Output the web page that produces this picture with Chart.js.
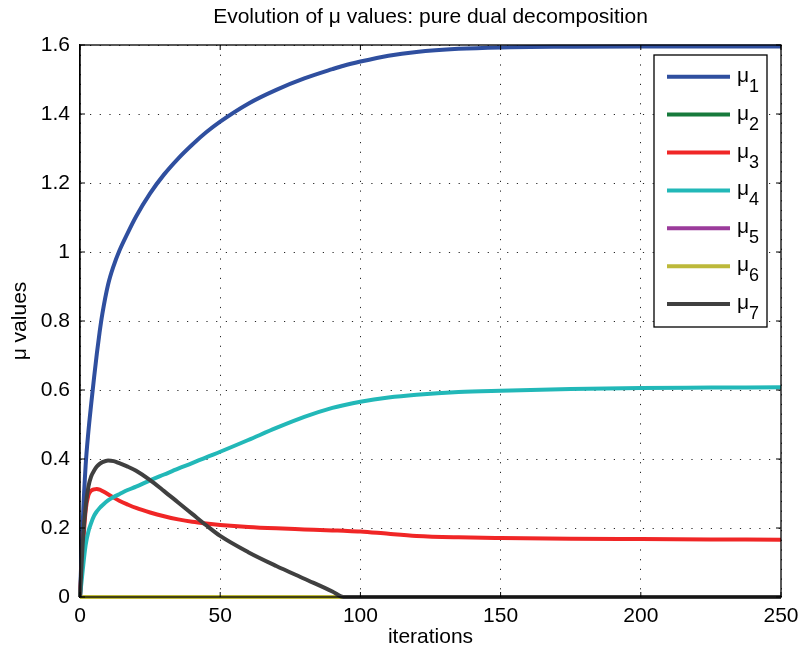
<!DOCTYPE html>
<html>
<head>
<meta charset="utf-8">
<script src="https://cdn.jsdelivr.net/npm/chart.js@4/dist/chart.umd.min.js"></script>
<style>
  html, body { margin: 0; padding: 0; background: #fff; }
  #wrap { width: 801px; height: 655px; }
</style>
</head>
<body>
<div id="wrap"><canvas id="muChart" width="801" height="655"></canvas></div>
<script>
// iterations where the curves were sampled off the picture
const iters = [0, 1, 2, 3, 4, 5, 6, 7, 8, 10, 12, 14, 17, 20, 25, 30, 35, 40, 45, 50,
  60, 70, 80, 90, 94, 100, 110, 120, 135, 150, 175, 200, 225, 250];

const mu1 = [0, 0.22, 0.38, 0.48, 0.56, 0.635, 0.705, 0.768, 0.822, 0.905, 0.96, 1.003, 1.055, 1.103, 1.17, 1.225,
  1.271, 1.311, 1.347, 1.378, 1.43, 1.47, 1.503, 1.53, 1.54, 1.552, 1.569, 1.58, 1.589, 1.593, 1.595, 1.596, 1.596, 1.596];
const mu2 = iters.map(() => 0);
const mu3 = [0, 0.14, 0.25, 0.295, 0.308, 0.312, 0.313, 0.311, 0.307, 0.298, 0.288, 0.279, 0.268, 0.258, 0.245, 0.234,
  0.225, 0.218, 0.213, 0.209, 0.203, 0.199, 0.196, 0.193, 0.192, 0.19, 0.183, 0.177, 0.173, 0.171, 0.169, 0.168, 0.167, 0.166];
const mu4 = [0, 0.08, 0.15, 0.19, 0.215, 0.235, 0.248, 0.258, 0.266, 0.28, 0.29, 0.298, 0.31, 0.32, 0.338, 0.355,
  0.372, 0.388, 0.405, 0.421, 0.455, 0.49, 0.522, 0.548, 0.556, 0.566, 0.578, 0.586, 0.594, 0.598, 0.603, 0.606, 0.607, 0.608];
const mu5 = iters.map(() => 0);
const mu6 = iters.map(() => 0);
const mu7 = [0, 0.16, 0.26, 0.32, 0.35, 0.366, 0.378, 0.386, 0.391, 0.396, 0.394, 0.388, 0.378, 0.366, 0.339, 0.307,
  0.274, 0.241, 0.208, 0.177, 0.13, 0.09, 0.053, 0.016, 0, 0, 0, 0, 0, 0, 0, 0, 0, 0];

const seriesNames = ["μ1", "μ2", "μ3", "μ4", "μ5", "μ6", "μ7"];
const seriesData = [mu1, mu2, mu3, mu4, mu5, mu6, mu7];
const seriesColors = ["#2f4f9f", "#177a3c", "#f02626", "#22b8b8", "#9b3b9b", "#bdb93a", "#404040"];

const xTicks = [0, 50, 100, 150, 200, 250];
const yTicks = [0, 0.2, 0.4, 0.6, 0.8, 1, 1.2, 1.4, 1.6];

const FONT = "'Liberation Sans', Arial, Helvetica, sans-serif";

// frame, inward ticks on all four sides, and the boxed legend (MATLAB look)
const matlabAxes = {
  id: "matlabAxes",
  afterDraw(chart) {
    const ctx = chart.ctx;
    const a = chart.chartArea;
    const xs = chart.scales.x, ys = chart.scales.y;
    ctx.save();
    ctx.strokeStyle = "#000";
    ctx.lineWidth = 1.3;
    ctx.strokeRect(a.left, a.top, a.right - a.left, a.bottom - a.top);

    const tl = 5;
    ctx.beginPath();
    xTicks.forEach(v => {
      const px = xs.getPixelForValue(v);
      ctx.moveTo(px, a.bottom); ctx.lineTo(px, a.bottom - tl);
      ctx.moveTo(px, a.top); ctx.lineTo(px, a.top + tl);
    });
    yTicks.forEach(v => {
      const py = ys.getPixelForValue(v);
      ctx.moveTo(a.left, py); ctx.lineTo(a.left + tl, py);
      ctx.moveTo(a.right, py); ctx.lineTo(a.right - tl, py);
    });
    ctx.lineWidth = 1;
    ctx.stroke();

    // legend
    const boxW = 113, boxH = 272;
    const bx = a.right - 14 - boxW, by = a.top + 10;
    ctx.fillStyle = "#fff";
    ctx.fillRect(bx, by, boxW, boxH);
    ctx.lineWidth = 1.3;
    ctx.strokeStyle = "#000";
    ctx.strokeRect(bx, by, boxW, boxH);
    seriesNames.forEach((name, i) => {
      const ly = by + 21.7 + i * 37.9;
      ctx.beginPath();
      ctx.moveTo(bx + 13, ly);
      ctx.lineTo(bx + 76, ly);
      ctx.strokeStyle = seriesColors[i];
      ctx.lineWidth = 4;
      ctx.stroke();
      ctx.fillStyle = "#000";
      ctx.textAlign = "left";
      ctx.textBaseline = "alphabetic";
      ctx.font = "21px " + FONT;
      ctx.fillText(name.charAt(0), bx + 83, ly + 5);
      ctx.font = "18px " + FONT;
      ctx.fillText(name.slice(1), bx + 95, ly + 15);
    });
    ctx.restore();
  }
};

new Chart(document.getElementById("muChart"), {
  type: "line",
  data: {
    labels: iters,
    datasets: seriesNames.map((name, i) => ({
      label: name,
      data: iters.map((x, k) => ({ x: x, y: seriesData[i][k] })),
      borderColor: seriesColors[i],
      backgroundColor: seriesColors[i],
      borderWidth: 4,
      pointRadius: 0,
      cubicInterpolationMode: "monotone",
      clip: 4,
      order: seriesNames.length - i
    }))
  },
  options: {
    responsive: false,
    animation: false,
    layout: { padding: { left: 0, right: 20, top: 0, bottom: 0 } },
    plugins: {
      legend: { display: false },
      tooltip: { enabled: false },
      title: {
        display: true,
        fullSize: false,
        text: "Evolution of μ values: pure dual decomposition",
        color: "#000",
        font: { family: FONT, size: 21, weight: "normal", lineHeight: 1.2 },
        padding: { top: 5, bottom: 14.8 }
      }
    },
    scales: {
      x: {
        type: "linear",
        min: 0,
        max: 250,
        afterBuildTicks: s => { s.ticks = xTicks.map(v => ({ value: v })); },
        afterFit: s => { s.height = 58; s.paddingLeft = 0; s.paddingRight = 0; },
        ticks: {
          color: "#000",
          padding: 7,
          maxRotation: 0,
          autoSkip: false,
          font: { family: FONT, size: 21 }
        },
        grid: { color: "rgba(0,0,0,0.85)", lineWidth: 1, drawTicks: false },
        border: { display: true, color: "#000", width: 1.3, dash: [1.2, 8.5] },
        title: {
          display: true,
          text: "iterations",
          color: "#000",
          font: { family: FONT, size: 21, lineHeight: 1.2 },
          padding: { top: 0, bottom: 5 }
        }
      },
      y: {
        type: "linear",
        min: 0,
        max: 1.6,
        afterBuildTicks: s => { s.ticks = yTicks.map(v => ({ value: v })); },
        afterFit: s => { s.width = 80; s.paddingTop = 0; s.paddingBottom = 0; },
        ticks: {
          color: "#000",
          padding: 10,
          font: { family: FONT, size: 21 },
          callback: v => String(v)
        },
        grid: { color: "rgba(0,0,0,0.85)", lineWidth: 1, drawTicks: false },
        border: { display: true, color: "#000", width: 1.3, dash: [1.2, 8.5] },
        title: {
          display: true,
          text: "μ values",
          color: "#000",
          font: { family: FONT, size: 21, lineHeight: 1.2 },
          padding: { top: 8, bottom: 0 }
        }
      }
    }
  },
  plugins: [matlabAxes]
});
</script>
</body>
</html>
